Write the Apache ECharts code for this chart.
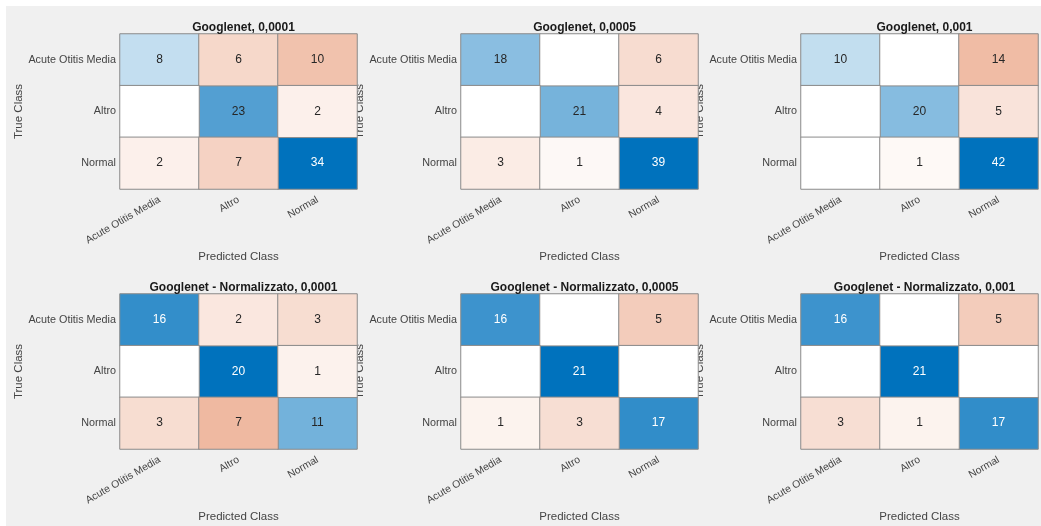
<!DOCTYPE html>
<html>
<head>
<meta charset="utf-8">
<style>
  html, body { margin: 0; padding: 0; background: #ffffff; }
  #chart { width: 1041px; height: 526px; }
</style>
<script src="https://cdn.jsdelivr.net/npm/echarts@6/dist/echarts.min.js"></script>
</head>
<body>
<div id="chart"></div>
<script>
// Class labels shared by every confusion matrix (rows = true, columns = predicted)
const classes = ['Acute Otitis Media', 'Altro', 'Normal'];

const panelTitles = [
  'Googlenet, 0,0001',
  'Googlenet, 0,0005',
  'Googlenet, 0,001',
  'Googlenet - Normalizzato, 0,0001',
  'Googlenet - Normalizzato, 0,0005',
  'Googlenet - Normalizzato, 0,001'
];

// Confusion matrices, one row per true class
const cmRate0001 = [[8, 6, 10], [0, 23, 2], [2, 7, 34]];
const cmRate0005 = [[18, 0, 6], [0, 21, 4], [3, 1, 39]];
const cmRate001  = [[10, 0, 14], [0, 20, 5], [0, 1, 42]];
const cmNormRate0001 = [[16, 2, 3], [0, 20, 1], [3, 7, 11]];
const cmNormRate0005 = [[16, 0, 5], [0, 21, 0], [1, 3, 17]];
const cmNormRate001  = [[16, 0, 5], [0, 21, 0], [3, 1, 17]];

const matrices = [cmRate0001, cmRate0005, cmRate001, cmNormRate0001, cmNormRate0005, cmNormRate001];

// Layout of the 2 x 3 panel grid
const colLeft = [120, 461, 801];
const cellW = 237;
const rowTop = [34, 294];
const cellH = 155;

const textDark = '#262626';
const tickColor = '#444444';
const font = 'Liberation Sans';

// Colour ramps: diagonal goes linearly white -> blue, off-diagonal white -> orange
// with a mild gamma so small counts still read as tinted.
function ramp(target, gamma, steps) {
  const out = [];
  for (let k = 0; k <= steps; k++) {
    const t = Math.pow(k / steps, gamma);
    const c = target.map(v => Math.round(255 + (v - 255) * t));
    out.push('rgb(' + c.join(',') + ')');
  }
  return out;
}
const diagRamp = ramp([0, 114, 189], 1, 10);
const offRamp = ramp([217, 83, 25], 0.85, 20);

const grids = [], xAxes = [], yAxes = [], series = [], visualMaps = [], titles = [];

matrices.forEach((m, i) => {
  const col = i % 3, row = Math.floor(i / 3);
  const left = colLeft[col], top = rowTop[row];
  const maxVal = Math.max(...m.flat());

  grids.push({ left: left, top: top, width: cellW, height: cellH });

  titles.push({
    text: panelTitles[i],
    left: left + cellW / 2,
    top: top - 17,
    textAlign: 'center',
    textStyle: { fontFamily: font, fontSize: 12, fontWeight: 'bold', color: '#1a1a1a' }
  });

  xAxes.push({
    type: 'category', gridIndex: i, data: classes,
    name: 'Predicted Class', nameLocation: 'middle', nameGap: 62,
    nameTextStyle: { fontFamily: font, fontSize: 11.5, color: tickColor },
    axisLine: { show: false }, axisTick: { show: false }, splitLine: { show: false },
    axisLabel: { rotate: 30, margin: 10, interval: 0, fontFamily: font, fontSize: 10.4, color: tickColor }
  });

  yAxes.push({
    type: 'category', gridIndex: i, data: classes, inverse: true,
    name: 'True Class', nameLocation: 'middle', nameGap: 89, nameRotate: 90,
    nameTextStyle: { fontFamily: font, fontSize: 11.5, color: tickColor },
    axisLine: { show: false }, axisTick: { show: false }, splitLine: { show: false },
    axisLabel: { margin: 4, fontFamily: font, fontSize: 10.8, color: tickColor }
  });

  const diagData = [], offData = [];
  m.forEach((rowVals, r) => {
    rowVals.forEach((v, c) => {
      const item = {
        value: [c, r, v],
        label: { color: v / maxVal > 0.7 ? '#ffffff' : textDark }
      };
      (r === c ? diagData : offData).push(item);
    });
  });

  const common = {
    type: 'heatmap', xAxisIndex: i, yAxisIndex: i,
    itemStyle: { borderColor: '#8a8a8a', borderWidth: 1 },
    label: {
      show: true, fontFamily: font, fontSize: 12,
      formatter: p => (p.value[2] === 0 ? '' : String(p.value[2]))
    },
    emphasis: { disabled: true }
  };

  const sDiag = series.length;
  series.push(Object.assign({}, common, { name: 'diag' + i, data: diagData }));
  const sOff = series.length;
  series.push(Object.assign({}, common, { name: 'off' + i, data: offData }));

  visualMaps.push({
    show: false, type: 'continuous', seriesIndex: sDiag, dimension: 2,
    min: 0, max: maxVal, inRange: { color: diagRamp }
  });
  visualMaps.push({
    show: false, type: 'continuous', seriesIndex: sOff, dimension: 2,
    min: 0, max: maxVal, inRange: { color: offRamp }
  });
});

const chart = echarts.init(document.getElementById('chart'), null, { renderer: 'canvas' });
chart.setOption({
  backgroundColor: '#ffffff',
  animation: false,
  graphic: [{
    type: 'rect', z: -10, silent: true,
    shape: { x: 6, y: 6, width: 1035, height: 520 },
    style: { fill: '#f0f0f0' }
  }],
  title: titles,
  grid: grids,
  xAxis: xAxes,
  yAxis: yAxes,
  visualMap: visualMaps,
  series: series
});
</script>
</body>
</html>
